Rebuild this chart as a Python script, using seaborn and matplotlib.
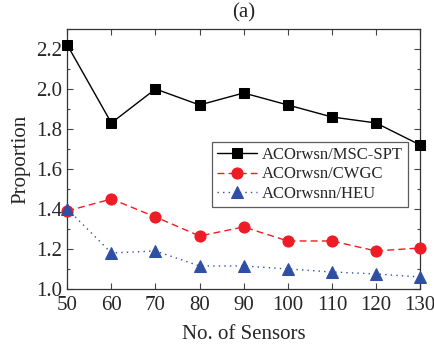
import pandas as pd
import numpy as np
import matplotlib.pyplot as plt
import seaborn as sns
from matplotlib.ticker import MultipleLocator

sensors = [50, 60, 70, 80, 90, 100, 110, 120, 130]
msc_spt = [2.22, 1.83, 2.00, 1.92, 1.98, 1.92, 1.86, 1.83, 1.72]
cwgc = [1.39, 1.45, 1.36, 1.265, 1.31, 1.24, 1.24, 1.19, 1.205]
heu = [1.40, 1.18, 1.19, 1.115, 1.115, 1.10, 1.085, 1.075, 1.06]
labels = ['ACOrwsn/MSC-SPT', 'ACOrwsn/CWGC', 'ACOrwsnn/HEU']

df = pd.DataFrame({'Sensors': sensors * 3,
                   'Proportion': msc_spt + cwgc + heu,
                   'Series': [labels[0]] * 9 + [labels[1]] * 9 + [labels[2]] * 9})

sns.set_theme(style="ticks")
plt.rcParams['font.family'] = ['Liberation Serif', 'DejaVu Serif']

fig, ax = plt.subplots(figsize=(4.34, 3.49), dpi=100)
fig.subplots_adjust(left=0.155, right=0.968, top=0.917, bottom=0.172)

styles = {labels[0]: ('black', '-', 's', 7),
          labels[1]: ('#ee1c24', (0, (5, 3)), 'o', 8),
          labels[2]: ('#2e4fa3', (0, (1, 3)), '^', 8)}
for lab in labels:
    c, ls, m, ms = styles[lab]
    sns.lineplot(data=df[df['Series'] == lab], x='Sensors', y='Proportion', ax=ax,
                 color=c, linestyle=ls, marker=m, markersize=ms, linewidth=1.0,
                 markeredgecolor=c, label=lab, clip_on=False, zorder=3)

ax.set_xlim(50, 130)
ax.set_ylim(1.0, 2.3)
ax.xaxis.set_major_locator(MultipleLocator(10))
ax.yaxis.set_major_locator(MultipleLocator(0.2))
ax.yaxis.set_minor_locator(MultipleLocator(0.1))
ax.tick_params(which='both', direction='in', top=True, right=True, labelsize=15, width=0.8, color='#444444')
ax.tick_params(which='major', length=4)
ax.tick_params(which='minor', length=2.5)
ax.tick_params(axis='x', pad=5)
ax.set_yticklabels([f'{v:.1f}' for v in ax.get_yticks()])
for s in ax.spines.values():
    s.set_linewidth(0.9)
    s.set_color('#333333')

ax.set_xlabel('No. of Sensors', fontsize=15, labelpad=7)
ax.set_ylabel('Proportion', fontsize=15, labelpad=4)
ax.set_title('(a)', fontsize=15, pad=8)

leg = ax.legend(loc='upper left', bbox_to_anchor=(0.41, 0.565), fontsize=12,
                frameon=True, fancybox=False, edgecolor='#333333', borderpad=0.3,
                labelspacing=0.2, handlelength=2.4, handletextpad=0.3, borderaxespad=0)
leg.get_frame().set_linewidth(0.9)

plt.savefig('out.png', dpi=100)
plt.close()
